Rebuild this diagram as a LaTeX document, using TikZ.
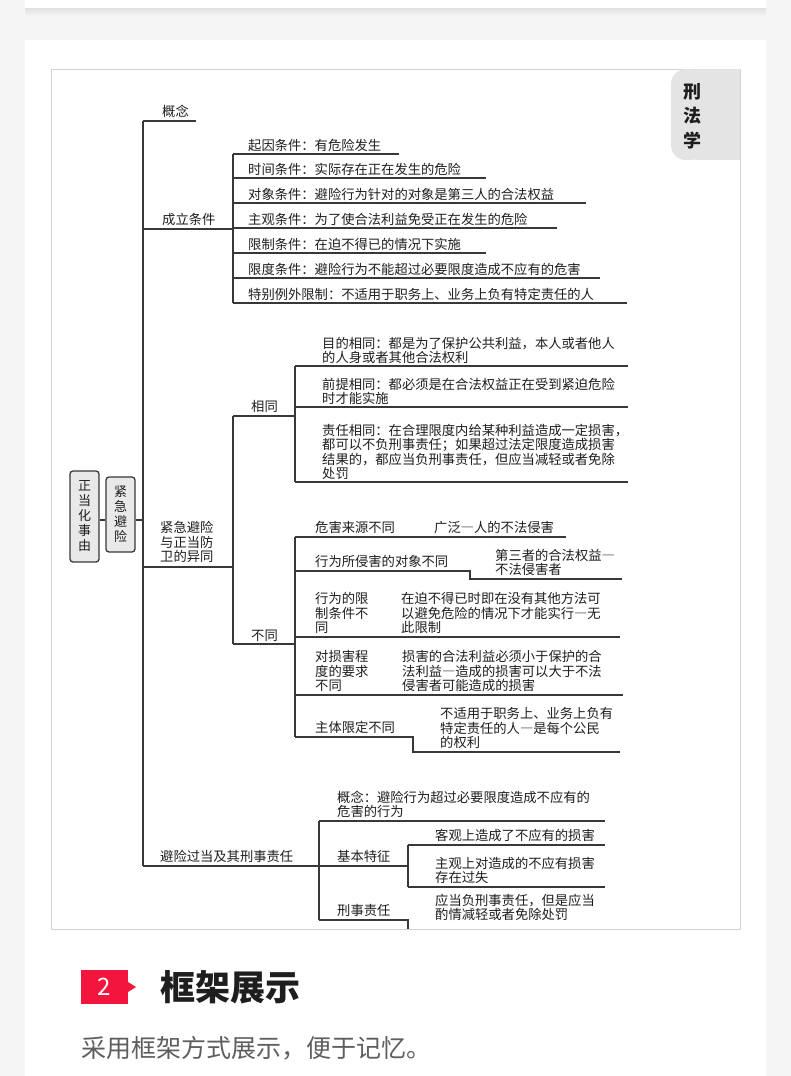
\documentclass[tikz,border=0pt]{standalone}
\usepackage{fontspec}
\setmainfont{Noto Sans CJK SC}
\usetikzlibrary{positioning}

\definecolor{pagebg}{HTML}{F5F5F5}
\definecolor{framegray}{HTML}{D2D2D2}
\definecolor{tabgray}{HTML}{E4E4E4}
\definecolor{linegray}{HTML}{383838}
\definecolor{textdark}{HTML}{1E1E1E}
\definecolor{markred}{HTML}{F2163E}
\definecolor{subgray}{HTML}{5E5E5E}

% full-width dash
\newcommand{\fwdash}{{\addfontfeatures{RawFeature=+fwid}—}}

\tikzset{
  branch/.style={draw=linegray, line width=1.4pt},
  txt/.style={anchor=south west, inner sep=0pt, text=textdark,
    font=\fontsize{13.3}{14.5}\selectfont, align=left},
  vbox/.style={draw=linegray, line width=1.3pt, fill=tabgray!80,
    rounded corners=3pt, minimum width=29pt, inner sep=2pt, align=center,
    text=textdark, font=\fontsize{13}{15}\selectfont}
}

\begin{document}
\begin{tikzpicture}[x=1pt,y=-1pt]
    \useasboundingbox (0,0) rectangle (791,1076);

    % Page and cards
    \fill[pagebg] (0,0) rectangle (791,1076);
    \shade[top color=black!12, bottom color=pagebg] (25,8) rectangle (766,16);
    \fill[white] (25,0) rectangle (766,8);
    \fill[black!4] (23,38) rectangle (768,1076);
    \fill[white] (25,40) rectangle (766,1076);

    % Frame and tab
    \draw[framegray, line width=1pt] (51,69) rectangle (740,929);
    \fill[tabgray, rounded corners=15pt] (671,69) -- (671,160) -- (705,160) -- (705,69) -- cycle;
    \fill[tabgray] (695,69) rectangle (740,160);
    \node[text=textdark, font=\bfseries\fontsize{18}{24.5}\selectfont, align=center] (tab) at (692,116) {刑\\法\\学};

    % Root boxes
    \coordinate (link) at (0,520);
    \node[vbox, minimum height=91pt] (root) at (84.5,516.5) {正\\当\\化\\事\\由};
    \node[vbox, minimum height=75pt] (jjbx) at (120.5,514.5) {紧\\急\\避\\险};
    \coordinate (trunkTop) at (143,121);
    \coordinate (trunkBot) at (143,866);
    \draw[branch] (root.east |- link) -- (jjbx.west |- link);
    \draw[branch] (jjbx.east |- link) -- (link -| trunkTop);
    \draw[branch] (trunkTop) -- (trunkBot);

    % Branch 1: concept
    \draw[branch] (trunkTop) -- ++(53,0);
    \node[txt] (gn) at (162,118) {概念};

    % Branch 2: conditions
    \draw[branch] (143,229) -- (233,229);
    \node[txt] (cltj) at (162,226) {成立条件};
    \draw[branch] (233,154) -- (233,303);
    \foreach \y/\xe/\t [count=\i] in {
        154/399/{起因条件：有危险发生},
        178/486/{时间条件：实际存在正在发生的危险},
        203/586/{对象条件：避险行为针对的对象是第三人的合法权益},
        228/557/{主观条件：为了使合法利益免受正在发生的危险},
        253/486/{限制条件：在迫不得已的情况下实施},
        278/600/{限度条件：避险行为不能超过必要限度造成不应有的危害},
        303/627/{特别例外限制：不适用于职务上、业务上负有特定责任的人}}
    {
        \draw[branch] (233,\y) -- (\xe,\y);
        \node[txt] (tj\i) at (248,\y-2) {\t};
    }

    % Branch 3: comparison with self-defence
    \draw[branch] (143,567) -- (233,567);
    \node[txt] (yt) at (160,563) {紧急避险\\与正当防\\卫的异同};
    \draw[branch] (233,416) -- (233,644);

    % same
    \draw[branch] (233,416) -- (295,416);
    \node[txt] (xt) at (251,413) {相同};
    \draw[branch] (295,366) -- (295,482);
    \foreach \y/\t [count=\i] in {
        366/{目的相同：都是为了保护公共利益，本人或者他人\\的人身或者其他合法权利},
        407/{前提相同：都必须是在合法权益正在受到紧迫危险\\时才能实施},
        482/{责任相同：在合理限度内给某种利益造成一定损害，\\都可以不负刑事责任；如果超过法定限度造成损害\\结果的，都应当负刑事责任，但应当减轻或者免除\\处罚}}
    {
        \draw[branch] (295,\y) -- (628,\y);
        \node[txt] (xt\i) at (322,\y-2) {\t};
    }

    % different
    \draw[branch] (233,644) -- (295,644);
    \node[txt] (bt) at (251,642) {不同};
    \draw[branch] (295,537) -- (295,737);

    \draw[branch] (295,537) -- (566,537);
    \node[txt] (bt1) at (315,534) {危害来源不同};
    \node[txt] (bt1r) at (434,534) {广泛\fwdash 人的不法侵害};

    \draw[branch] (295,571) -- (470,571) -- (470,579) -- (622,579);
    \node[txt] (bt2) at (315,568) {行为所侵害的对象不同};
    \node[txt] (bt2r) at (495,576) {第三者的合法权益\fwdash\\不法侵害者};

    \draw[branch] (295,637) -- (620,637);
    \node[txt] (bt3) at (315,634) {行为的限\\制条件不\\同};
    \node[txt] (bt3r) at (401,634) {在迫不得已时即在没有其他方法可\\以避免危险的情况下才能实行\fwdash 无\\此限制};

    \draw[branch] (295,695) -- (623,695);
    \node[txt] (bt4) at (315,692) {对损害程\\度的要求\\不同};
    \node[txt] (bt4r) at (402,692) {损害的合法利益必须小于保护的合\\法利益\fwdash 造成的损害可以大于不法\\侵害者可能造成的损害};

    \draw[branch] (295,737) -- (413,737) -- (413,752) -- (620,752);
    \node[txt] (bt5) at (315,734) {主体限定不同};
    \node[txt] (bt5r) at (440,749) {不适用于职务上、业务上负有\\特定责任的人\fwdash 是每个公民\\的权利};

    % Branch 4: excessive necessity
    \draw[branch] (143,866) -- (319,866);
    \node[txt] (bxgd) at (160,863) {避险过当及其刑事责任};
    \draw[branch] (319,821) -- (319,920);

    \draw[branch] (319,821) -- (605,821);
    \node[txt] (gd1) at (337,818) {概念：避险行为超过必要限度造成不应有的\\危害的行为};

    \draw[branch] (319,866) -- (408,866);
    \node[txt] (gd2) at (337,863) {基本特征};
    \draw[branch] (408,845) -- (408,887);
    \draw[branch] (408,845) -- (605,845);
    \node[txt] (gd2a) at (435,842) {客观上造成了不应有的损害};
    \draw[branch] (408,887) -- (605,887);
    \node[txt] (gd2b) at (435,884) {主观上对造成的不应有损害\\存在过失};

    \draw[branch] (319,920) -- (408,920) -- (408,929);
    \node[txt] (gd3) at (337,917) {刑事责任};
    \node[txt] (gd3r) at (435,921) {应当负刑事责任，但是应当\\酌情减轻或者免除处罚};

    % Section heading
    \fill[markred] (81,970) rectangle (128,1004);
    \fill[markred] (128,982) -- (136,987) -- (128,992) -- cycle;
    \node[text=white, font=\fontsize{24}{24}\selectfont] (num) at (104.5,987) {2};
    \node[anchor=west, inner sep=0pt, text=textdark, font=\bfseries\fontsize{35}{35}\selectfont] (title) at (160,987) {框架展示};
    \node[anchor=west, inner sep=0pt, text=subgray, font=\fontsize{25}{25}\selectfont] (subtitle) at (81,1048) {采用框架方式展示，便于记忆。};
\end{tikzpicture}
\end{document}
